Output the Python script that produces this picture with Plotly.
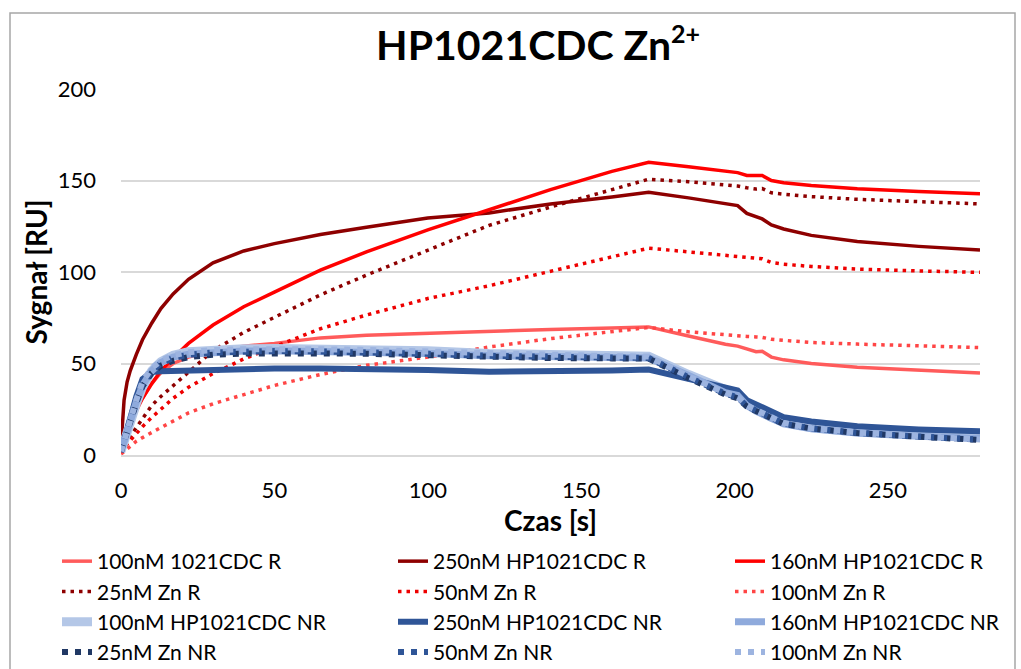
import plotly.graph_objects as go

# time axis [s]
t = [0, 1, 2, 3, 5, 7, 10, 13, 17, 22, 30, 40, 50, 65, 80, 100, 120, 140, 160, 172,
     185, 197, 201, 204, 207, 209, 212, 216, 225, 240, 260, 280]

# --- R series ---
r_100_1021 = [2, 6, 10, 15, 24, 31, 39, 45, 50, 53.5, 57, 59.5, 61, 64, 65.5, 66.6, 67.5, 68.6, 69.4, 70,
              65, 60.5, 59.5, 58, 56.4, 56.7, 53.5, 52, 50, 48, 46.2, 44.8]
r_250_hp = [5, 30, 40, 46, 55, 63, 72, 80, 88, 96, 105, 111.5, 115.5, 120.5, 124.5, 129.5, 132.3, 137.2, 141, 143.6,
            140.5, 137.6, 136.3, 132, 130.5, 129, 125.7, 123.5, 120, 116.7, 114, 112]
r_160_hp = [2, 7, 12, 17, 25, 31, 39, 46, 53, 61, 71, 81, 89, 101, 111, 123, 134, 145, 155, 160,
            157.5, 155, 154.3, 152.8, 152.5, 152.7, 150, 148.8, 147.3, 145.5, 144, 142.7]
r_25_zn = [1, 4, 7, 10, 15, 20, 27, 32, 38, 45, 57, 67, 75, 87.5, 98.3, 112, 125.5, 135.5, 145, 150.7,
           149.3, 147.8, 147, 146, 145.3, 145.6, 143.3, 142.5, 141.2, 139.7, 138.3, 137.2]
r_50_zn = [1, 3, 6, 8, 12, 15.5, 20.5, 25, 31, 37, 44.5, 52.5, 59, 69, 76.5, 85.5, 92.5, 100.5, 108.5, 113,
           111, 109, 108.5, 108, 107.4, 107.2, 105.2, 104.3, 103, 101.6, 100.6, 99.8]
r_100_zn = [0.5, 2, 3.5, 5, 7.5, 9.5, 12.5, 15, 18.5, 23, 28, 33, 38, 44, 49, 53.5, 59, 63.6, 67.5, 69.7,
            67.3, 65.5, 65, 64.8, 64.5, 64.3, 63.2, 62.6, 61.5, 60.6, 59.6, 58.7]

# --- NR series ---
nr_100_hp = [2, 8, 14, 19, 28, 37, 46, 51, 54.5, 56.5, 57.5, 58, 58.2, 58, 57.8, 57, 55.5, 55, 54.5, 54,
             44, 35, 33, 28, 25, 23, 20.5, 18, 15, 12.5, 11, 10]
nr_250_hp = [1.5, 8, 15, 21, 32, 41.5, 45.3, 45.8, 46, 46.3, 46.6, 47, 47.2, 47.2, 47, 46.5, 45.5, 45.6, 46.2, 46.7,
             41.5, 36.2, 35.3, 30, 27.5, 26, 23.5, 20.7, 18.3, 15.7, 14, 13]
nr_160_hp = [2, 8, 13.5, 19, 29, 38, 46, 50.5, 53.5, 55, 56.2, 56.8, 57, 56.8, 56.5, 55.5, 54.3, 53.8, 53.3, 53,
             43.5, 34, 32.5, 27, 24, 22.5, 20, 17, 14.3, 12, 10.2, 9]
nr_25_zn = [2.5, 8, 13.4, 18.5, 28.5, 37.5, 44.8, 48.8, 51.5, 53.5, 54.8, 55.4, 55.6, 55.5, 55.3, 54.5, 53.3, 53, 52.8, 52.7,
            42, 33, 31, 26.5, 24, 22.5, 20, 17, 14.5, 12, 10, 8.2]
nr_50_zn = [2, 8.5, 14, 19.5, 29.5, 38.5, 46, 50, 53, 54.8, 56, 56.5, 56.8, 56.6, 56.2, 55.3, 54.2, 53.6, 53.2, 53,
            42.5, 33.5, 31.5, 26.8, 24.3, 22.8, 20.2, 17.2, 14.6, 12.1, 10.1, 8.4]
nr_100_zn = [2, 8, 14, 20, 30, 40, 47.5, 51.5, 54.5, 56.2, 57.3, 57.8, 58, 57.8, 57.4, 56.5, 55.3, 54.6, 54, 53.8,
             43, 34, 32, 27, 24.6, 23, 20.4, 17.5, 14.8, 12.3, 10.3, 8.5]

series = [
    ("100nM 1021CDC R", r_100_1021, "#FF5B5B", 3.5, "solid"),
    ("250nM HP1021CDC R", r_250_hp, "#8E0000", 3.5, "solid"),
    ("160nM HP1021CDC R", r_160_hp, "#FF0000", 3.5, "solid"),
    ("25nM Zn R", r_25_zn, "#8E0000", 3.5, "3.5px,5px"),
    ("50nM Zn R", r_50_zn, "#EE0000", 3.5, "3.5px,5px"),
    ("100nM Zn R", r_100_zn, "#FF4545", 3.5, "3.5px,5px"),
    ("100nM HP1021CDC NR", nr_100_hp, "#B4C7E7", 9, "solid"),
    ("250nM HP1021CDC NR", nr_250_hp, "#2F5597", 6, "solid"),
    ("160nM HP1021CDC NR", nr_160_hp, "#8FAADC", 7, "solid"),
    ("25nM Zn NR", nr_25_zn, "#203864", 6, "6px,7px"),
    ("50nM Zn NR", nr_50_zn, "#2F5597", 6, "6px,7px"),
    ("100nM Zn NR", nr_100_zn, "#9DB4E0", 6, "6px,7px"),
]

legend_ids = ["legend", "legend2", "legend3"]

fig = go.Figure()
for i, (name, ys, color, w, dash) in enumerate(series):
    fig.add_trace(go.Scatter(x=t, y=ys, mode="lines", name=name,
                             legend=legend_ids[i % 3],
                             line=dict(color=color, width=w, dash=dash)))

FONT = "Lato"
PW, PH, L, T = 859, 366, 121, 89


def px2x(px):
    return (px - L) / PW


def py2y(py):
    return (T + PH - py) / PH


leg_common = dict(orientation="v", yanchor="top", xanchor="left", y=py2y(541),
                  traceorder="normal", font=dict(family=FONT, size=21),
                  bgcolor="rgba(0,0,0,0)", itemwidth=30)

fig.update_layout(
    width=1021, height=669,
    margin=dict(l=L, r=1021 - L - PW, t=T, b=669 - T - PH, autoexpand=False),
    paper_bgcolor="white", plot_bgcolor="white",
    font=dict(family=FONT, size=22, color="#000000"),
    title=dict(text="<b>HP1021CDC Zn<sup><span style='font-size:25px'>2+</span></sup></b>",
               x=0.527, xanchor="center", y=1 - 46 / 669, yanchor="middle",
               font=dict(family=FONT, size=41, color="#000000")),
    xaxis=dict(range=[0, 280], tickvals=[0, 50, 100, 150, 200, 250], showgrid=False,
               zeroline=False, showline=True, linecolor="#D9D9D9", linewidth=1.5,
               ticks="", ticklabelstandoff=15,
               title=dict(text="<b>Czas [s]</b>", font=dict(family=FONT, size=28), standoff=2)),
    yaxis=dict(range=[0, 200], tickvals=[0, 50, 100, 150, 200], showgrid=True,
               gridcolor="#D9D9D9", gridwidth=1.5, zeroline=False, ticks="",
               ticklabelstandoff=24,
               title=dict(text="<b>Sygnał [RU]</b>", font=dict(family=FONT, size=28), standoff=1)),
    legend=dict(x=px2x(57), **leg_common),
    legend2=dict(x=px2x(393), **leg_common),
    legend3=dict(x=px2x(730), **leg_common),
    showlegend=True,
)

# outer chart border
fig.add_shape(type="rect", xref="paper", yref="paper",
              x0=px2x(10), x1=px2x(1015), y0=py2y(700), y1=py2y(13),
              line=dict(color="#A6A6A6", width=1.5), fillcolor="rgba(0,0,0,0)", layer="below")

fig.write_html("out.html")
